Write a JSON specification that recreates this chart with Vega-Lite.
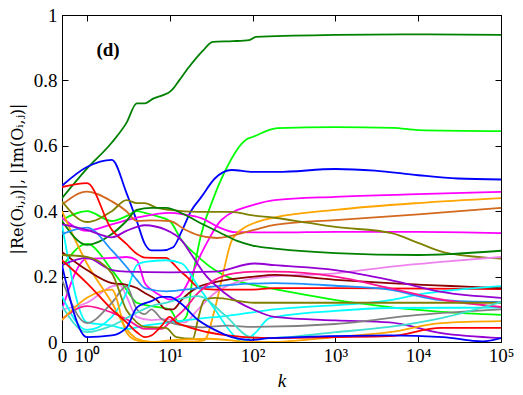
{
"$schema":"https://vega.github.io/schema/vega-lite/v6.json",
"width":439,"height":327,"autosize":{"type":"none"},
"padding":{"left":62,"top":15,"right":22,"bottom":53},
"background":"white",
"config":{"view":{"stroke":"black","strokeWidth":1},"axis":{"grid":false,"domainColor":"black","tickColor":"black","labelFont":"Liberation Serif","titleFont":"Liberation Serif","labelColor":"black","titleColor":"black","labelFontSize":19,"titleFontSize":19,"titleFontWeight":"normal"}},
"datasets":{"d":[
{"s":"A","k":0,"v":0.44},{"s":"A","k":1,"v":0.53},{"s":"A","k":2,"v":0.61},{"s":"A","k":3,"v":0.67},{"s":"A","k":4,"v":0.73},{"s":"A","k":5,"v":0.73},{"s":"A","k":6.4,"v":0.745},{"s":"A","k":8.3,"v":0.755},{"s":"A","k":10,"v":0.765},{"s":"A","k":11,"v":0.775},{"s":"A","k":13,"v":0.8},{"s":"A","k":17,"v":0.84},{"s":"A","k":25,"v":0.89},{"s":"A","k":33,"v":0.918},{"s":"A","k":58,"v":0.92},{"s":"A","k":91,"v":0.923},{"s":"A","k":110,"v":0.933},{"s":"A","k":1000,"v":0.939},{"s":"A","k":10000,"v":0.941},{"s":"A","k":100000,"v":0.939},
{"s":"B","k":0,"v":0.23},{"s":"B","k":1,"v":0.3},{"s":"B","k":2,"v":0.22},{"s":"B","k":3,"v":0.16},{"s":"B","k":4,"v":0.12},{"s":"B","k":6,"v":0.11},{"s":"B","k":10,"v":0.1},{"s":"B","k":13,"v":0.06},{"s":"B","k":16,"v":0.08},{"s":"B","k":19,"v":0.2},{"s":"B","k":23,"v":0.31},{"s":"B","k":33,"v":0.434},{"s":"B","k":46,"v":0.52},{"s":"B","k":85,"v":0.62},{"s":"B","k":100,"v":0.627},{"s":"B","k":200,"v":0.654},{"s":"B","k":1000,"v":0.657},{"s":"B","k":5000,"v":0.655},{"s":"B","k":10000,"v":0.648},{"s":"B","k":100000,"v":0.645},
{"s":"C","k":0,"v":0.373},{"s":"C","k":1,"v":0.4},{"s":"C","k":2,"v":0.37},{"s":"C","k":3,"v":0.385},{"s":"C","k":4,"v":0.4},{"s":"C","k":5,"v":0.395},{"s":"C","k":7,"v":0.385},{"s":"C","k":10,"v":0.37},{"s":"C","k":14,"v":0.31},{"s":"C","k":20,"v":0.27},{"s":"C","k":35,"v":0.22},{"s":"C","k":60,"v":0.19},{"s":"C","k":105,"v":0.174},{"s":"C","k":160,"v":0.165},{"s":"C","k":1500,"v":0.122},{"s":"C","k":19000,"v":0.092},{"s":"C","k":100000,"v":0.083},
{"s":"D","k":0,"v":0.478},{"s":"D","k":1,"v":0.535},{"s":"D","k":2,"v":0.557},{"s":"D","k":3,"v":0.456},{"s":"D","k":4,"v":0.37},{"s":"D","k":5,"v":0.3},{"s":"D","k":6,"v":0.28},{"s":"D","k":8,"v":0.28},{"s":"D","k":11,"v":0.29},{"s":"D","k":14,"v":0.34},{"s":"D","k":18,"v":0.4},{"s":"D","k":24,"v":0.443},{"s":"D","k":35,"v":0.5},{"s":"D","k":56,"v":0.526},{"s":"D","k":100,"v":0.52},{"s":"D","k":200,"v":0.52},{"s":"D","k":1000,"v":0.529},{"s":"D","k":3000,"v":0.524},{"s":"D","k":10000,"v":0.51},{"s":"D","k":30000,"v":0.5},{"s":"D","k":100000,"v":0.497},
{"s":"E","k":0,"v":0.1},{"s":"E","k":1,"v":0.255},{"s":"E","k":2,"v":0.257},{"s":"E","k":3,"v":0.26},{"s":"E","k":4,"v":0.25},{"s":"E","k":5,"v":0.18},{"s":"E","k":6,"v":0.16},{"s":"E","k":8,"v":0.14},{"s":"E","k":10,"v":0.13},{"s":"E","k":13,"v":0.14},{"s":"E","k":18,"v":0.2},{"s":"E","k":24,"v":0.27},{"s":"E","k":29,"v":0.31},{"s":"E","k":42,"v":0.373},{"s":"E","k":105,"v":0.42},{"s":"E","k":184,"v":0.434},{"s":"E","k":1000,"v":0.444},{"s":"E","k":10000,"v":0.452},{"s":"E","k":100000,"v":0.459},
{"s":"F","k":0,"v":0.38},{"s":"F","k":1,"v":0.34},{"s":"F","k":2,"v":0.36},{"s":"F","k":4,"v":0.38},{"s":"F","k":10,"v":0.395},{"s":"F","k":15,"v":0.39},{"s":"F","k":24,"v":0.379},{"s":"F","k":40,"v":0.35},{"s":"F","k":61,"v":0.336},{"s":"F","k":200,"v":0.335},{"s":"F","k":1000,"v":0.337},{"s":"F","k":10000,"v":0.337},{"s":"F","k":100000,"v":0.333},
{"s":"G","k":0,"v":0.4},{"s":"G","k":1,"v":0.24},{"s":"G","k":2,"v":0.12},{"s":"G","k":3,"v":0.04},{"s":"G","k":4,"v":0.01},{"s":"G","k":6,"v":0.0},{"s":"G","k":15,"v":0.0},{"s":"G","k":26,"v":0.005},{"s":"G","k":35,"v":0.1},{"s":"G","k":45,"v":0.22},{"s":"G","k":56,"v":0.31},{"s":"G","k":80,"v":0.35},{"s":"G","k":105,"v":0.364},{"s":"G","k":180,"v":0.38},{"s":"G","k":1000,"v":0.404},{"s":"G","k":10000,"v":0.425},{"s":"G","k":100000,"v":0.44},
{"s":"H","k":0,"v":0.42},{"s":"H","k":1,"v":0.46},{"s":"H","k":2,"v":0.43},{"s":"H","k":3,"v":0.4},{"s":"H","k":4,"v":0.37},{"s":"H","k":6,"v":0.372},{"s":"H","k":10,"v":0.37},{"s":"H","k":15,"v":0.345},{"s":"H","k":22,"v":0.327},{"s":"H","k":37,"v":0.318},{"s":"H","k":105,"v":0.343},{"s":"H","k":184,"v":0.358},{"s":"H","k":1000,"v":0.373},{"s":"H","k":10000,"v":0.39},{"s":"H","k":100000,"v":0.41},
{"s":"I","k":0,"v":0.43},{"s":"I","k":1,"v":0.367},{"s":"I","k":2,"v":0.4},{"s":"I","k":3,"v":0.434},{"s":"I","k":4,"v":0.425},{"s":"I","k":5,"v":0.425},{"s":"I","k":7,"v":0.41},{"s":"I","k":10,"v":0.404},{"s":"I","k":22,"v":0.398},{"s":"I","k":56,"v":0.398},{"s":"I","k":95,"v":0.388},{"s":"I","k":184,"v":0.38},{"s":"I","k":480,"v":0.364},{"s":"I","k":1000,"v":0.352},{"s":"I","k":4800,"v":0.333},{"s":"I","k":10000,"v":0.303},{"s":"I","k":20000,"v":0.275},{"s":"I","k":100000,"v":0.255},
{"s":"J","k":0,"v":0.37},{"s":"J","k":1,"v":0.297},{"s":"J","k":2,"v":0.33},{"s":"J","k":3,"v":0.37},{"s":"J","k":4,"v":0.404},{"s":"J","k":6,"v":0.41},{"s":"J","k":9,"v":0.41},{"s":"J","k":15,"v":0.39},{"s":"J","k":25,"v":0.36},{"s":"J","k":40,"v":0.335},{"s":"J","k":64,"v":0.31},{"s":"J","k":100,"v":0.295},{"s":"J","k":200,"v":0.285},{"s":"J","k":1000,"v":0.272},{"s":"J","k":10000,"v":0.266},{"s":"J","k":100000,"v":0.279},
{"s":"K","k":0,"v":0.1},{"s":"K","k":1,"v":0.12},{"s":"K","k":2,"v":0.17},{"s":"K","k":2.5,"v":0.175},{"s":"K","k":3,"v":0.14},{"s":"K","k":4,"v":0.077},{"s":"K","k":6,"v":0.067},{"s":"K","k":9,"v":0.07},{"s":"K","k":15,"v":0.06},{"s":"K","k":22,"v":0.1},{"s":"K","k":35,"v":0.15},{"s":"K","k":60,"v":0.18},{"s":"K","k":160,"v":0.2},{"s":"K","k":1000,"v":0.21},{"s":"K","k":4500,"v":0.23},{"s":"K","k":19000,"v":0.245},{"s":"K","k":100000,"v":0.26},
{"s":"L","k":0,"v":0.474},{"s":"L","k":1,"v":0.486},{"s":"L","k":2,"v":0.343},{"s":"L","k":3,"v":0.3},{"s":"L","k":4,"v":0.27},{"s":"L","k":5,"v":0.258},{"s":"L","k":9,"v":0.257},{"s":"L","k":11,"v":0.24},{"s":"L","k":13,"v":0.22},{"s":"L","k":16,"v":0.2},{"s":"L","k":22,"v":0.168},{"s":"L","k":35,"v":0.16},{"s":"L","k":95,"v":0.16},{"s":"L","k":184,"v":0.165},{"s":"L","k":1000,"v":0.165},{"s":"L","k":100000,"v":0.162},
{"s":"M","k":0,"v":0.275},{"s":"M","k":1,"v":0.22},{"s":"M","k":2,"v":0.18},{"s":"M","k":3,"v":0.175},{"s":"M","k":4,"v":0.165},{"s":"M","k":5,"v":0.15},{"s":"M","k":7,"v":0.128},{"s":"M","k":9,"v":0.1},{"s":"M","k":11,"v":0.1},{"s":"M","k":14,"v":0.13},{"s":"M","k":22,"v":0.168},{"s":"M","k":35,"v":0.183},{"s":"M","k":105,"v":0.2},{"s":"M","k":184,"v":0.205},{"s":"M","k":1000,"v":0.19},{"s":"M","k":4500,"v":0.18},{"s":"M","k":100000,"v":0.165},
{"s":"N1","k":0,"v":0.14},{"s":"N1","k":1,"v":0.037},{"s":"N1","k":2,"v":0.077},{"s":"N1","k":3,"v":0.15},{"s":"N1","k":4,"v":0.235},{"s":"N1","k":5,"v":0.245},{"s":"N1","k":9,"v":0.25},{"s":"N1","k":14,"v":0.24},{"s":"N1","k":22,"v":0.17},{"s":"N1","k":35,"v":0.1},{"s":"N1","k":56,"v":0.027},{"s":"N1","k":74,"v":0.0},{"s":"N1","k":110,"v":0.03},{"s":"N1","k":160,"v":0.073},{"s":"N1","k":1000,"v":0.095},{"s":"N1","k":4500,"v":0.104},{"s":"N1","k":100000,"v":0.105},
{"s":"N2","k":0,"v":0.36},{"s":"N2","k":1,"v":0.06},{"s":"N2","k":2,"v":0.05},{"s":"N2","k":3,"v":0.04},{"s":"N2","k":5,"v":0.05},{"s":"N2","k":10,"v":0.06},{"s":"N2","k":20,"v":0.07},{"s":"N2","k":50,"v":0.08},{"s":"N2","k":160,"v":0.098},{"s":"N2","k":4500,"v":0.128},{"s":"N2","k":10000,"v":0.145},{"s":"N2","k":100000,"v":0.171},
{"s":"O","k":0,"v":0.33},{"s":"O","k":1,"v":0.35},{"s":"O","k":2,"v":0.28},{"s":"O","k":3,"v":0.23},{"s":"O","k":4,"v":0.19},{"s":"O","k":5,"v":0.165},{"s":"O","k":9,"v":0.155},{"s":"O","k":22,"v":0.165},{"s":"O","k":56,"v":0.175},{"s":"O","k":184,"v":0.18},{"s":"O","k":1000,"v":0.172},{"s":"O","k":4500,"v":0.16},{"s":"O","k":19000,"v":0.128},{"s":"O","k":100000,"v":0.122},
{"s":"P","k":0,"v":0.235},{"s":"P","k":1,"v":0.257},{"s":"P","k":2,"v":0.22},{"s":"P","k":3,"v":0.215},{"s":"P","k":10,"v":0.213},{"s":"P","k":35,"v":0.215},{"s":"P","k":105,"v":0.24},{"s":"P","k":184,"v":0.235},{"s":"P","k":1000,"v":0.22},{"s":"P","k":4500,"v":0.19},{"s":"P","k":19000,"v":0.153},{"s":"P","k":100000,"v":0.135},
{"s":"Q","k":0,"v":0.36},{"s":"Q","k":1,"v":0.343},{"s":"Q","k":2,"v":0.32},{"s":"Q","k":3,"v":0.34},{"s":"Q","k":4,"v":0.352},{"s":"Q","k":5,"v":0.357},{"s":"Q","k":9,"v":0.343},{"s":"Q","k":14,"v":0.31},{"s":"Q","k":18,"v":0.27},{"s":"Q","k":26,"v":0.21},{"s":"Q","k":46,"v":0.15},{"s":"Q","k":105,"v":0.098},{"s":"Q","k":184,"v":0.077},{"s":"Q","k":1000,"v":0.066},{"s":"Q","k":4500,"v":0.06},{"s":"Q","k":19000,"v":0.027},{"s":"Q","k":100000,"v":0.012},
{"s":"R","k":0,"v":0.07},{"s":"R","k":1,"v":0.11},{"s":"R","k":2,"v":0.09},{"s":"R","k":3,"v":0.07},{"s":"R","k":5,"v":0.04},{"s":"R","k":8,"v":0.04},{"s":"R","k":10,"v":0.06},{"s":"R","k":15,"v":0.1},{"s":"R","k":22,"v":0.15},{"s":"R","k":35,"v":0.19},{"s":"R","k":60,"v":0.21},{"s":"R","k":105,"v":0.215},{"s":"R","k":184,"v":0.215},{"s":"R","k":1000,"v":0.2},{"s":"R","k":4500,"v":0.165},{"s":"R","k":19000,"v":0.13},{"s":"R","k":100000,"v":0.107},
{"s":"S","k":0,"v":0.19},{"s":"S","k":1,"v":0.058},{"s":"S","k":2,"v":0.12},{"s":"S","k":3,"v":0.17},{"s":"S","k":4,"v":0.1},{"s":"S","k":5,"v":0.085},{"s":"S","k":6,"v":0.1},{"s":"S","k":8,"v":0.07},{"s":"S","k":10,"v":0.06},{"s":"S","k":15,"v":0.05},{"s":"S","k":25,"v":0.045},{"s":"S","k":50,"v":0.05},{"s":"S","k":100,"v":0.046},{"s":"S","k":1000,"v":0.055},{"s":"S","k":10000,"v":0.083},{"s":"S","k":100000,"v":0.1},
{"s":"T","k":0,"v":0.266},{"s":"T","k":1,"v":0.26},{"s":"T","k":2,"v":0.21},{"s":"T","k":3,"v":0.098},{"s":"T","k":4,"v":0.06},{"s":"T","k":5,"v":0.046},{"s":"T","k":9,"v":0.043},{"s":"T","k":12,"v":0.015},{"s":"T","k":19,"v":0.01},{"s":"T","k":22,"v":0.07},{"s":"T","k":26,"v":0.128},{"s":"T","k":35,"v":0.135},{"s":"T","k":105,"v":0.12},{"s":"T","k":1000,"v":0.12},{"s":"T","k":100000,"v":0.12},
{"s":"U","k":0,"v":0.11},{"s":"U","k":1,"v":0.03},{"s":"U","k":2,"v":0.05},{"s":"U","k":4,"v":0.09},{"s":"U","k":6,"v":0.11},{"s":"U","k":9,"v":0.12},{"s":"U","k":15,"v":0.135},{"s":"U","k":22,"v":0.14},{"s":"U","k":46,"v":0.083},{"s":"U","k":95,"v":0.015},{"s":"U","k":160,"v":0.012},{"s":"U","k":1000,"v":0.03},{"s":"U","k":4500,"v":0.046},{"s":"U","k":19000,"v":0.073},{"s":"U","k":100000,"v":0.122},
{"s":"V","k":0,"v":0.067},{"s":"V","k":1,"v":0.135},{"s":"V","k":2,"v":0.16},{"s":"V","k":3,"v":0.03},{"s":"V","k":4,"v":0.005},{"s":"V","k":6,"v":0.0},{"s":"V","k":10,"v":0.005},{"s":"V","k":30,"v":0.01},{"s":"V","k":100,"v":0.0},{"s":"V","k":160,"v":0.0},{"s":"V","k":1000,"v":0.015},{"s":"V","k":4500,"v":0.03},{"s":"V","k":19000,"v":0.058},{"s":"V","k":100000,"v":0.064},
{"s":"W","k":0,"v":0.25},{"s":"W","k":1,"v":0.18},{"s":"W","k":2,"v":0.1},{"s":"W","k":3,"v":0.06},{"s":"W","k":4,"v":0.03},{"s":"W","k":5,"v":0.015},{"s":"W","k":6,"v":0.02},{"s":"W","k":8,"v":0.05},{"s":"W","k":10,"v":0.077},{"s":"W","k":12,"v":0.06},{"s":"W","k":15,"v":0.05},{"s":"W","k":22,"v":0.037},{"s":"W","k":50,"v":0.02},{"s":"W","k":160,"v":0.012},{"s":"W","k":1000,"v":0.015},{"s":"W","k":4500,"v":0.018},{"s":"W","k":19000,"v":0.043},{"s":"W","k":100000,"v":0.043},
{"s":"X","k":0,"v":0.235},{"s":"X","k":1,"v":0.015},{"s":"X","k":2,"v":0.02},{"s":"X","k":3,"v":0.043},{"s":"X","k":4,"v":0.105},{"s":"X","k":6,"v":0.125},{"s":"X","k":8,"v":0.138},{"s":"X","k":10,"v":0.138},{"s":"X","k":13,"v":0.122},{"s":"X","k":22,"v":0.067},{"s":"X","k":35,"v":0.037},{"s":"X","k":56,"v":0.015},{"s":"X","k":95,"v":0.006},{"s":"X","k":160,"v":0.012},{"s":"X","k":4500,"v":0.02},{"s":"X","k":20000,"v":0.015},{"s":"X","k":60000,"v":0.002},{"s":"X","k":100000,"v":0.012}
]},
"data":{"name":"d"},
"transform":[{"calculate":"datum.k == 0 ? 0.5 : datum.k","as":"kx"}],
"resolve":{"axis":{"x":"independent","y":"independent"}},
"layer":[
{"mark":{"type":"line","strokeWidth":1.8,"clip":true,"interpolate":"monotone"},
 "encoding":{
  "x":{"field":"kx","type":"quantitative","scale":{"type":"log","domain":[0.5,100000],"nice":false},
   "axis":{"orient":"bottom","values":[0.5,1,10,100,1000,10000,100000],"labelExpr":"datum.value < 0.9 ? '0' : datum.value < 5 ? '10⁰' : datum.value < 50 ? '10¹' : datum.value < 500 ? '10²' : datum.value < 5000 ? '10³' : datum.value < 50000 ? '10⁴' : '10⁵'","tickSize":-6,"labelPadding":10,"title":"k","titleFontStyle":"italic","titlePadding":6,"labelFlush":false,"labelOverlap":false}},
  "y":{"field":"v","type":"quantitative","scale":{"domain":[0,1],"nice":false},
   "axis":{"orient":"left","values":[0,0.2,0.4,0.6,0.8,1],"labelExpr":"datum.value == 0 ? '0' : datum.value == 1 ? '1' : format(datum.value, '.1f')","tickSize":-6,"labelPadding":11,"title":"|Re(Oᵢ,ⱼ)|, |Im(Oᵢ,ⱼ)|","titleFont":"DejaVu Serif","titleFontSize":16,"titlePadding":8,"labelFlush":false}},
  "color":{"field":"s","type":"nominal","legend":null,"scale":{"domain":["A","B","C","D","E","F","G","H","I","J","K","L","M","N1","N2","O","P","Q","R","S","T","U","V","W","X"],"range":["#008000","#00ff00","#00ff00","#0000ff","#ff00ff","#ff00ff","#ffa500","#d2691e","#808000","#008000","#ee82ee","#ff0000","#8b0000","#00ffff","#00ffff","#1e90ff","#9400d3","#9400d3","#ff1493","#808080","#808000","#40e0d0","#ffa500","#ff0000","#0000ff"]}},
  "order":{"field":"kx","type":"quantitative"}
 }},
{"mark":{"type":"point","opacity":0},
 "encoding":{
  "x":{"field":"kx","type":"quantitative","axis":{"orient":"top","values":[1,10,100,1000,10000,100000],"labels":false,"title":null,"tickSize":-6}},
  "y":{"field":"v","type":"quantitative","axis":{"orient":"right","values":[0,0.2,0.4,0.6,0.8,1],"labels":false,"title":null,"tickSize":-6}}
 }},
{"data":{"values":[{}]},
 "mark":{"type":"text","text":"(d)","font":"Liberation Serif","fontWeight":"bold","fontSize":19,"align":"center","baseline":"middle"},
 "encoding":{"x":{"datum":1.8,"type":"quantitative","axis":null},"y":{"datum":0.893,"type":"quantitative","axis":null}}}
]
}
